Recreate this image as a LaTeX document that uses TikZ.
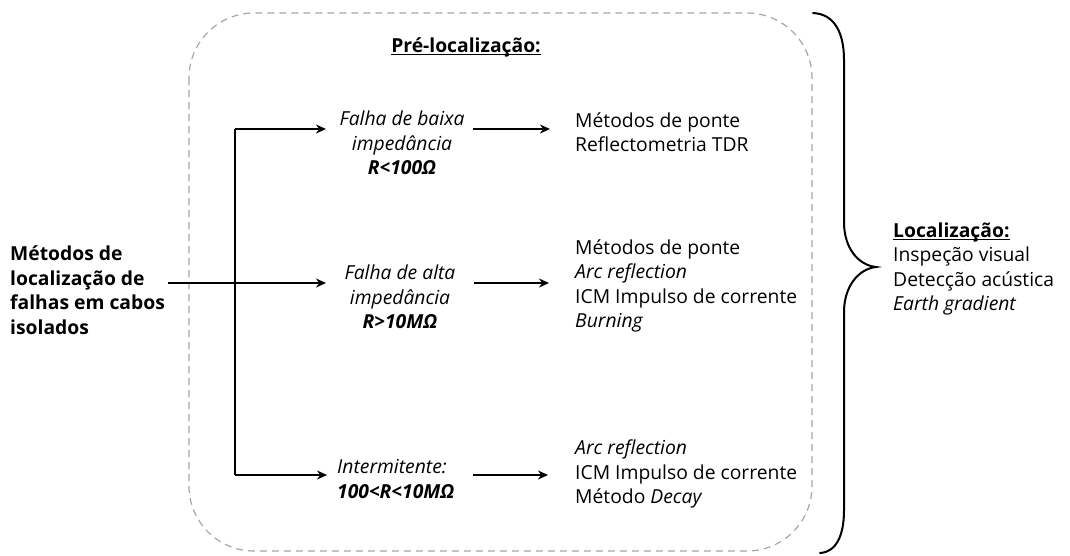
\documentclass[tikz,border=0pt]{standalone}
\usepackage{fontspec}
\setmainfont{Open Sans}
\usetikzlibrary{arrows.meta}
\newcommand\myul[1]{\setbox0\hbox{#1}\rlap{\rule[-2.8pt]{\wd0}{1.2pt}}\box0}
\begin{document}
\begin{tikzpicture}[x=1pt,y=-1pt,
  txt/.style={font=\fontsize{19.3}{24.5}\selectfont, inner sep=0pt},
  arr/.style={line width=1.8pt,-{Stealth[length=10pt,width=9pt]}},
  frame/.style={draw=black!35, dashed, dash pattern=on 7pt off 5pt, line width=1.2pt, rounded corners=65pt},
  bracestyle/.style={line width=2pt, line cap=round}
  ]
\useasboundingbox (0,0) rectangle (1070,555);
\draw[frame] (189,13) rectangle (812,551);
\node[txt, font=\fontsize{19.3}{24.5}\selectfont\bfseries] (pre) at (466,47) {\myul{Pré-localização:}};

\node[txt, font=\fontsize{19.3}{24.5}\selectfont\bfseries, align=left, anchor=west] (src) at (10,290) {Métodos de\\localização de\\falhas em cabos\\isolados};

\node[txt, align=center] (low) at (402,143) {\itshape Falha de baixa\\\itshape impedância\\\bfseries\itshape R<100Ω};
\node[txt, align=center] (high) at (400,297) {\itshape Falha de alta\\\itshape impedância\\\bfseries\itshape R>10MΩ};
\node[txt, align=left, anchor=west] (int) at (337,479) {\itshape Intermitente:\\\bfseries\itshape 100<R<10MΩ};

\node[txt, align=left, anchor=west] (mlow) at (575,132) {Métodos de ponte\\Reflectometria TDR};
\node[txt, align=left, anchor=west] (mhigh) at (575,286) {Métodos de ponte\\\itshape Arc reflection\\ICM Impulso de corrente\\\itshape Burning};
\node[txt, align=left, anchor=west] (mint) at (575,474) {\itshape Arc reflection\\ICM Impulso de corrente\\Método \textit{Decay}};

\node[txt, align=left, anchor=west] (loc) at (893,269) {\textbf{\myul{Localização:}}\\Inspeção visual\\Detecção acústica\\\itshape Earth gradient};

\coordinate (s0) at (168,283);
\coordinate (bt) at (235,129);
\coordinate (bb) at (235,475);
\coordinate (e1) at (326,129);
\coordinate (e2) at (326,283);
\coordinate (e3) at (327,475);

\draw[line width=1.8pt] (bt) -- (bb);
\draw[arr] (bt) -- (e1);
\draw[arr] (s0) -- (e2);
\draw[arr] (bb) -- (e3);

\draw[arr] (473,129) -- (550,129);
\draw[arr] (474,283) -- (549,283);
\draw[arr] (473,475) -- (548,475);

\draw[bracestyle] (813,13) .. controls (834,14) and (844,32) .. (844,60) -- (844,222) .. controls (844,248) and (858,265) .. (876,267) .. controls (858,269) and (844,287) .. (844,312) -- (844,510) .. controls (844,536) and (836,552) .. (820,553);
\end{tikzpicture}
\end{document}
